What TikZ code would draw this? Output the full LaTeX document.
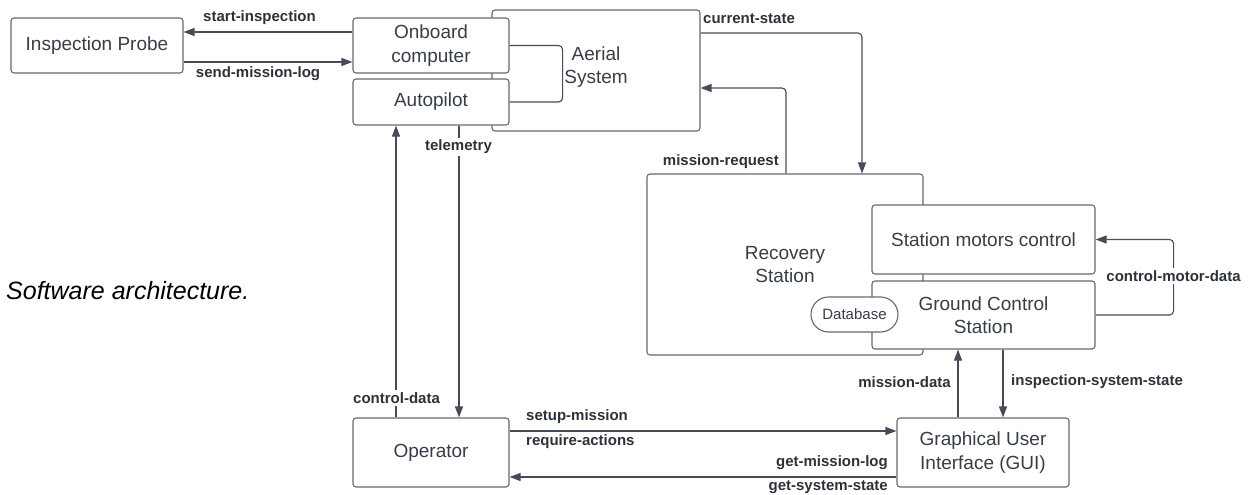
\documentclass[tikz,border=0pt]{standalone}
\usepackage{fontspec}
\setmainfont{Liberation Sans}
\usetikzlibrary{arrows.meta}
\definecolor{boxc}{RGB}{100,106,115}
\definecolor{linec}{RGB}{70,76,86}
\definecolor{txtc}{RGB}{55,62,72}
\definecolor{lblc}{RGB}{45,50,58}
\tikzset{
  box/.style={draw=boxc, line width=1.1pt, fill=white, rounded corners=3pt, inner sep=0pt,
    align=center, text=txtc, font=\fontsize{19}{23.5}\selectfont},
  conn/.style={draw=linec, line width=1.1pt, rounded corners=4pt},
  arr/.style={conn, -{Triangle[length=11pt,width=8pt]}},
  lbl/.style={inner sep=0pt, text=lblc, font=\fontsize{15}{18}\selectfont\bfseries},
  wlbl/.style={lbl, fill=white, inner sep=2pt},
}
\begin{document}
\begin{tikzpicture}[x=1pt,y=-1pt]
\useasboundingbox (0,0) rectangle (1253,495);
% caption
\node[anchor=west, inner sep=0pt, font=\fontsize{25}{30}\selectfont\itshape] (cap) at (6,291) {Software architecture.};
% Aerial system group
\node[box, minimum width=208pt, minimum height=121pt] (aerial) at (596,70.5) {};
\node[text=txtc, align=center, font=\fontsize{19}{23.5}\selectfont] (aeriallbl) at (596,67) {Aerial\\System};
\node[box, minimum width=156pt, minimum height=55pt] (onboard) at (431,45.5) {Onboard\\computer};
\node[box, minimum width=156pt, minimum height=46pt] (autopilot) at (431,102) {Autopilot};
\node[box, minimum width=172pt, minimum height=55pt] (probe) at (97,45.5) {Inspection Probe};
% Recovery station group
\node[box, minimum width=276pt, minimum height=181pt] (recovery) at (785,264.5) {Recovery\\Station};
\node[box, minimum width=223pt, minimum height=69pt] (motors) at (983.5,239.5) {Station motors control};
\node[box, minimum width=223pt, minimum height=68pt] (gcs) at (983.5,315) {Ground Control\\Station};
\node[box, rounded corners=17.5pt, minimum width=87pt, minimum height=35pt, font=\fontsize{15}{18}\selectfont] (db) at (854.5,314.5) {Database};
% bottom
\node[box, minimum width=156pt, minimum height=69pt] (operator) at (431,452.5) {Operator};
\node[box, minimum width=172pt, minimum height=69pt] (gui) at (983,452.5) {Graphical User\\Interface (GUI)};
% connectors
\draw[arr] ([yshift=13.5pt]onboard.west) -- ([yshift=13.5pt]probe.east);
\node[lbl] (l1) at (259.5,18) {start-inspection};
\draw[arr] ([yshift=-16.5pt]probe.east) -- ([yshift=-16.5pt]onboard.west);
\node[lbl] (l2) at (258,74) {send-mission-log};
\draw[conn] (onboard.east) -- ++(53,0) |- (autopilot.east);
\draw[arr] ([yshift=37.5pt]aerial.east) -| ([xshift=77pt]recovery.north);
\node[lbl, anchor=west] (l3) at (703,19) {current-state};
\draw[arr] ([xshift=1pt]recovery.north) |- ([yshift=-17.5pt]aerial.east);
\node[lbl, anchor=east] (l4) at (779,162) {mission-request};
\draw[arr] (gcs.east) -- ++(78,0) |- (motors.east);
\node[wlbl] (l5) at (1173.5,276) {control-motor-data};
\draw[arr] ([xshift=-25pt]gui.north) -- ([xshift=-25pt]gui.north |- gcs.south);
\node[lbl, anchor=east] (l6) at (951,382) {mission-data};
\draw[arr] ([xshift=20pt]gui.north |- gcs.south) -- ([xshift=20pt]gui.north);
\node[lbl, anchor=west] (l7) at (1011,382) {inspection-system-state};
\draw[arr] ([xshift=28pt]autopilot.south) -- ([xshift=28pt]operator.north);
\node[wlbl] (l8) at (458.5,147) {telemetry};
\draw[arr] ([xshift=-35pt]operator.north) -- ([xshift=-35pt]autopilot.south);
\node[wlbl] (l9) at (396.5,398) {control-data};
\draw[arr] ([yshift=21.5pt]operator.east) -- ([yshift=21.5pt]gui.west);
\node[lbl, anchor=west] (l10) at (526,417) {setup-mission};
\node[lbl, anchor=west] (l11) at (526,442) {require-actions};
\draw[arr] ([yshift=-24.5pt]gui.west) -- ([yshift=-24.5pt]operator.east);
\node[lbl, anchor=east] (l12) at (888,463) {get-mission-log};
\node[lbl, anchor=east] (l13) at (888,487) {get-system-state};
\end{tikzpicture}
\end{document}
